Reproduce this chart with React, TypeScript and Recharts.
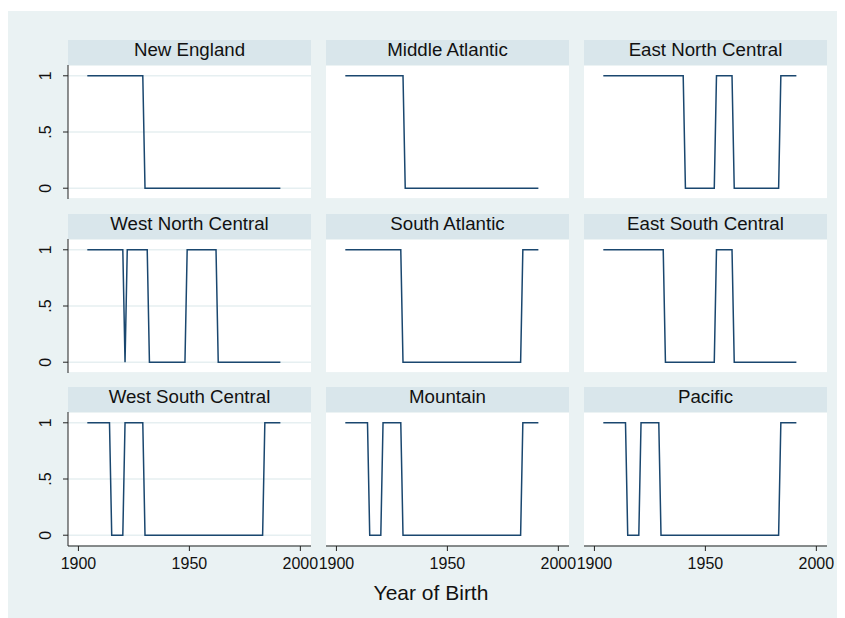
import { CartesianGrid, Line, LineChart, XAxis, YAxis } from 'recharts';

// census divisions, one panel each (read left-to-right, top-to-bottom)
const regions = [
    'New England',
    'Middle Atlantic',
    'East North Central',
    'West North Central',
    'South Atlantic',
    'East South Central',
    'West South Central',
    'Mountain',
    'Pacific',
];

// yearly 0/1 values from 1904, grouped: 1904-09 | 1910s ... 1980s | 1990-91
const firstYear = 1904;
const newEngland = '111111 1111111111 1111111111 0000000000 0000000000 0000000000 0000000000 0000000000 0000000000 00';
const middleAtlantic = '111111 1111111111 1111111111 1000000000 0000000000 0000000000 0000000000 0000000000 0000000000 00';
const eastNorthCentral = '111111 1111111111 1111111111 1111111111 1000000000 0000011111 1110000000 0000000000 0000111111 11';
const westNorthCentral = '111111 1111111111 1011111111 1100000000 0000000001 1111111111 1110000000 0000000000 0000000000 00';
const southAtlantic = '111111 1111111111 1111111111 0000000000 0000000000 0000000000 0000000000 0000000000 0000111111 11';
const eastSouthCentral = '111111 1111111111 1111111111 1100000000 0000000000 0000011111 1110000000 0000000000 0000000000 00';
const westSouthCentral = '111111 1111100000 0111111111 0000000000 0000000000 0000000000 0000000000 0000000000 0000111111 11';
const mountain = '111111 1111100000 0111111111 0000000000 0000000000 0000000000 0000000000 0000000000 0000111111 11';
const pacific = '111111 1111100000 0111111111 0000000000 0000000000 0000000000 0000000000 0000000000 0000111111 11';

const seriesByRegion = [
    newEngland, middleAtlantic, eastNorthCentral,
    westNorthCentral, southAtlantic, eastSouthCentral,
    westSouthCentral, mountain, pacific,
];

const xTicks = [1900, 1950, 2000];
const yTicks = [0, 0.5, 1];
const yTickLabels = ['0', '.5', '1'];

const FONT = '"Liberation Sans", Arial, Helvetica, sans-serif';
const LINE = '#1a476f';
const OUTER_BG = '#eaf2f3';
const STRIP_BG = '#d9e6eb';

const colLeft = [68, 326, 584];
const rowTop = [65, 239, 412];
const PLOT_W = 243;
const PLOT_H = 134;
const STRIP_H = 25;
const AXIS_W = 40;
const X_AXIS_H = 30;

const toRows = (s: string) =>
    s.replace(/ /g, '').split('').map((c, k) => ({ year: firstYear + k, value: Number(c) }));

function YTick(props: any) {
    const { x, y, payload } = props;
    const idx = yTicks.indexOf(payload.value);
    return (
        <text
            x={x}
            y={y}
            transform={`rotate(-90 ${x} ${y})`}
            textAnchor="middle"
            fontSize={16}
            fontFamily={FONT}
            fill="#111"
        >
            {yTickLabels[idx]}
        </text>
    );
}

function Panel({ data, left, top, showY, showX }: any) {
    const h = PLOT_H + (showX ? X_AXIS_H : 0);
    const w = AXIS_W + PLOT_W + 20;
    return (
        <div style={{ position: 'absolute', left: left - AXIS_W, top, width: w, height: h }}>
            <LineChart width={w} height={h} data={data} margin={{ top: 0, right: 20, left: 0, bottom: 0 }}>
                <CartesianGrid vertical={false} stroke="#e6eff1" strokeWidth={1.5} />
                <XAxis
                    dataKey="year"
                    type="number"
                    domain={[1895.3, 2004.8]}
                    ticks={xTicks}
                    interval={0}
                    allowDataOverflow
                    hide={!showX}
                    height={X_AXIS_H}
                    tickSize={5}
                    tickMargin={7}
                    axisLine={{ stroke: '#222', strokeWidth: 1 }}
                    tickLine={{ stroke: '#222' }}
                    tick={{ fill: '#111', fontSize: 16, fontFamily: FONT }}
                />
                <YAxis
                    type="number"
                    domain={[-0.096, 1.096]}
                    ticks={yTicks}
                    interval={0}
                    allowDataOverflow
                    width={AXIS_W}
                    tickSize={5}
                    tickMargin={12}
                    axisLine={showY ? { stroke: '#222', strokeWidth: 1 } : false}
                    tickLine={showY ? { stroke: '#222' } : false}
                    tick={showY ? (p: any) => <YTick {...p} /> : false}
                />
                <Line
                    type="linear"
                    dataKey="value"
                    stroke={LINE}
                    strokeWidth={1.5}
                    dot={false}
                    isAnimationActive={false}
                />
            </LineChart>
        </div>
    );
}

export default function App() {
    return (
        <div style={{ position: 'absolute', left: 0, top: 0, width: 845, height: 618, background: '#fff', fontFamily: FONT }}>
            <svg width={845} height={618} style={{ position: 'absolute', left: 0, top: 0 }}>
                <rect x={8} y={11} width={829} height={607} fill={OUTER_BG} />
                {regions.map((name, i) => {
                    const x = colLeft[i % 3];
                    const y = rowTop[Math.floor(i / 3)];
                    return (
                        <g key={name}>
                            <rect x={x} y={y - STRIP_H} width={PLOT_W} height={STRIP_H} fill={STRIP_BG} />
                            <rect x={x} y={y} width={PLOT_W} height={PLOT_H} fill="#fff" />
                            <text
                                x={x + PLOT_W / 2}
                                y={y - STRIP_H + 16}
                                textAnchor="middle"
                                fontSize={18.7}
                                fontFamily={FONT}
                                fill="#111"
                            >
                                {name}
                            </text>
                        </g>
                    );
                })}
                <text x={431} y={600} textAnchor="middle" fontSize={21} fontFamily={FONT} fill="#111">
                    Year of Birth
                </text>
            </svg>
            {regions.map((name, i) => (
                <Panel
                    key={name}
                    data={toRows(seriesByRegion[i])}
                    left={colLeft[i % 3]}
                    top={rowTop[Math.floor(i / 3)]}
                    showY={i % 3 === 0}
                    showX={i >= 6}
                />
            ))}
        </div>
    );
}
